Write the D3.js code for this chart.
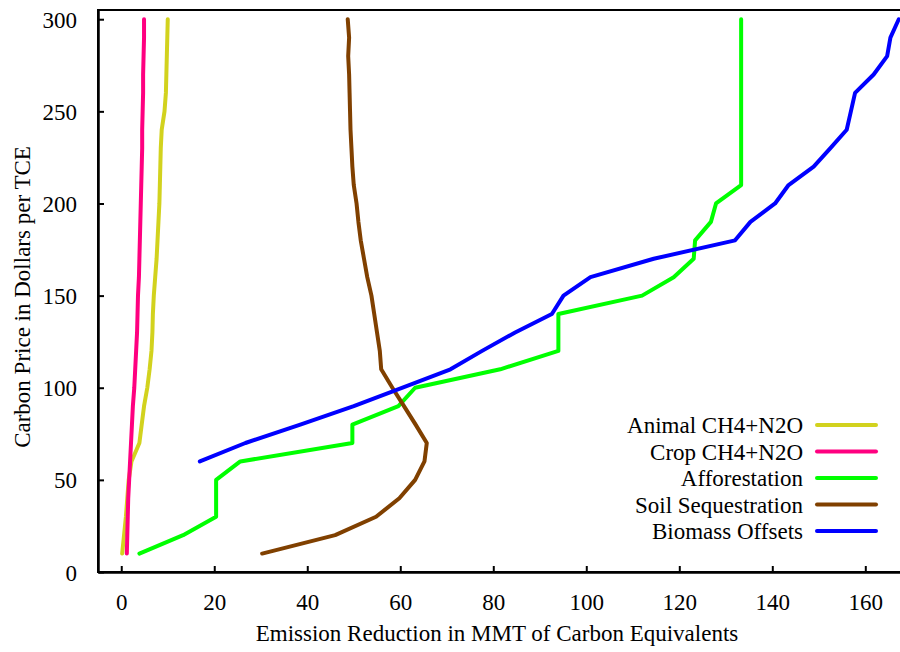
<!DOCTYPE html>
<html>
<head>
<meta charset="utf-8">
<script src="https://cdn.jsdelivr.net/npm/d3@7"></script>
<style>
  body { margin: 0; background: #fff; }
  text { font-family: "Liberation Serif", "Times New Roman", serif; fill: #000; }
</style>
</head>
<body>
<div id="chart"></div>
<script>
// carbon price steps (dollars per TCE)
var prices = [10, 20, 30, 40, 50, 60, 70, 80, 90, 100, 110, 120, 130, 140, 150,
  160, 170, 180, 190, 200, 210, 220, 230, 240, 250, 260, 270, 280, 290, 300];
var biomassPrices = [60, 70, 80, 90, 100, 110, 120, 130, 140, 150, 160, 170, 180,
  190, 200, 210, 220, 230, 240, 250, 260, 270, 280, 290, 300];

// emission reduction (MMT carbon equivalents)
var animal = [0.2, 0.6, 1.0, 1.3, 1.6, 2.2, 3.9, 4.4, 4.9, 5.6, 6.1, 6.5, 6.7, 6.8, 7.0,
  7.3, 7.6, 7.8, 8.0, 8.2, 8.3, 8.4, 8.5, 8.7, 9.3, 9.6, 9.7, 9.8, 9.9, 10.0];
var crop = [1.2, 1.3, 1.4, 1.5, 1.7, 1.9, 2.1, 2.3, 2.5, 2.8, 3.0, 3.2, 3.4, 3.5, 3.6,
  3.8, 3.9, 4.0, 4.1, 4.2, 4.3, 4.4, 4.5, 4.5, 4.6, 4.7, 4.7, 4.8, 4.9, 4.9];
var afforestation = [3.9, 13.3, 20.4, 20.4, 20.4, 25.6, 49.7, 49.7, 59.6, 63.2, 81.5, 94.0, 94.0, 94.0, 112.0,
  118.8, 123.1, 123.4, 126.8, 127.9, 133.3, 133.3, 133.3, 133.3, 133.3, 133.3, 133.3, 133.3, 133.3, 133.3];
var soil = [30.3, 46.0, 54.8, 59.8, 63.2, 65.2, 65.7, 63.3, 60.8, 58.3, 55.9, 55.6, 55.0, 54.4, 53.8,
  52.9, 52.2, 51.5, 51.0, 50.6, 50.0, 49.7, 49.5, 49.3, 49.2, 49.1, 49.0, 48.8, 49.0, 48.7];
var biomass = [16.9, 26.7, 38.5, 50.0, 60.5, 70.8, 77.6, 84.7, 92.6, 95.1, 100.9, 114.5, 132.0,
  135.3, 140.6, 143.5, 148.9, 152.5, 156.0, 156.9, 157.8, 161.8, 164.7, 165.4, 167.2];

var xTicks = [0, 20, 40, 60, 80, 100, 120, 140, 160];
var yTicks = [0, 50, 100, 150, 200, 250, 300];

var series = [
  {name: "Animal CH4+N2O", color: "#d2d21e", y: prices, x: animal},
  {name: "Crop CH4+N2O", color: "#ff0080", y: prices, x: crop},
  {name: "Afforestation", color: "#00ff00", y: prices, x: afforestation},
  {name: "Soil Sequestration", color: "#804000", y: prices, x: soil},
  {name: "Biomass Offsets", color: "#0000ff", y: biomassPrices, x: biomass}
];

var svgWidth = 900;
var svgHeight = 652;
var plot = {left: 98, right: 902.5, top: 10, bottom: 572};

var svg = d3.select("#chart")
  .append("svg")
  .attr("width", svgWidth)
  .attr("height", svgHeight);

var xScale = d3.scaleLinear().domain([-5, 168]).range([plot.left, plot.right]);
var yScale = d3.scaleLinear().domain([0, 305]).range([plot.bottom, plot.top]);

// frame
svg.append("rect")
  .attr("x", plot.left)
  .attr("y", plot.top)
  .attr("width", plot.right - plot.left)
  .attr("height", plot.bottom - plot.top)
  .attr("fill", "none")
  .attr("stroke", "#000")
  .attr("stroke-width", 2);

// axes with inward ticks
var xAxis = svg.append("g")
  .attr("transform", `translate(0, ${plot.bottom})`)
  .call(d3.axisBottom(xScale).tickValues(xTicks).tickSizeInner(-6).tickSizeOuter(0).tickPadding(22));
var yAxis = svg.append("g")
  .attr("transform", `translate(${plot.left}, 0)`)
  .call(d3.axisLeft(yScale).tickValues(yTicks).tickSizeInner(-6).tickSizeOuter(0).tickPadding(21));

[xAxis, yAxis].forEach(function(ax) {
  ax.select(".domain").attr("stroke-width", 2.5);
  ax.selectAll(".tick line").attr("stroke-width", 2);
  ax.selectAll(".tick text")
    .attr("font-size", "23px")
    .attr("font-family", "Liberation Serif, serif");
});
yAxis.selectAll(".tick text").attr("dy", "0.35em");

// axis titles
svg.append("text")
  .attr("x", 497)
  .attr("y", 641)
  .attr("text-anchor", "middle")
  .attr("font-size", "23px")
  .text("Emission Reduction in MMT of Carbon Equivalents");

svg.append("text")
  .attr("transform", "translate(30, 297) rotate(-90)")
  .attr("text-anchor", "middle")
  .attr("font-size", "23px")
  .text("Carbon Price in Dollars per TCE");

// lines
var line = d3.line()
  .x(d => xScale(d[0]))
  .y(d => yScale(d[1]));

series.forEach(function(s) {
  var pts = s.x.map((v, i) => [v, s.y[i]]);
  svg.append("path")
    .datum(pts)
    .attr("d", line)
    .attr("fill", "none")
    .attr("stroke", s.color)
    .attr("stroke-width", 4)
    .attr("stroke-linejoin", "round")
    .attr("stroke-linecap", "round");
});

// legend
var legend = svg.append("g");
series.forEach(function(s, i) {
  var y = 425 + i * 26.5;
  legend.append("text")
    .attr("x", 803)
    .attr("y", y)
    .attr("dy", "0.35em")
    .attr("text-anchor", "end")
    .attr("font-size", "23px")
    .text(s.name);
  legend.append("line")
    .attr("x1", 817)
    .attr("x2", 876)
    .attr("y1", y)
    .attr("y2", y)
    .attr("stroke", s.color)
    .attr("stroke-width", 4)
    .attr("stroke-linecap", "round");
});
</script>
</body>
</html>
